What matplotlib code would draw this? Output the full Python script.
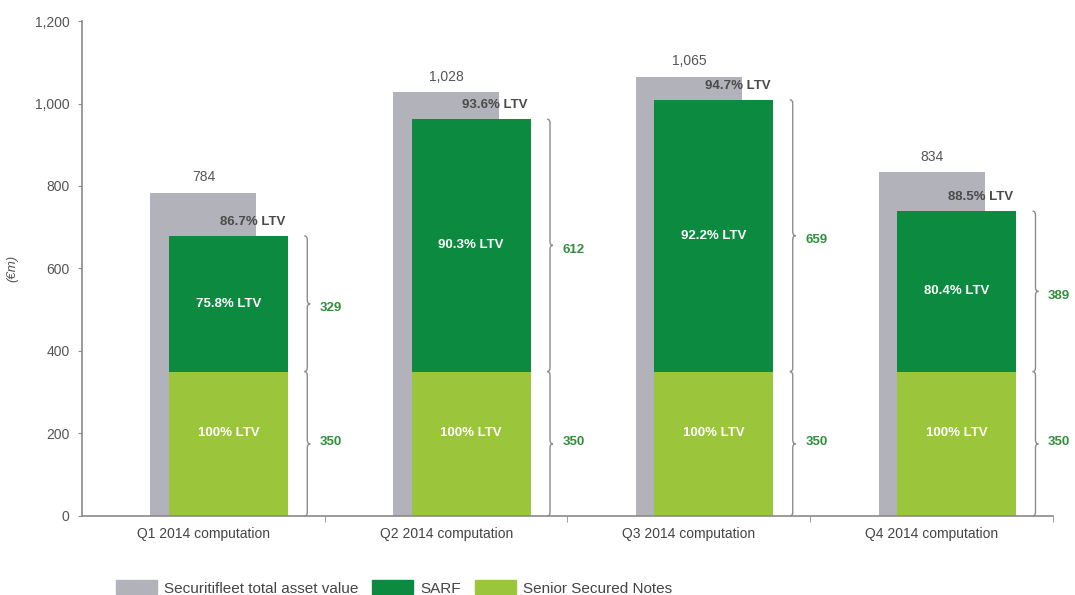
import matplotlib
matplotlib.use("Agg")
import matplotlib.pyplot as plt
from matplotlib.path import Path
from matplotlib.patches import PathPatch, Patch

# data
quarters = ["Q1 2014 computation", "Q2 2014 computation",
            "Q3 2014 computation", "Q4 2014 computation"]
total_asset = [784, 1028, 1065, 834]
senior_notes = [350, 350, 350, 350]
sarf = [329, 612, 659, 389]
ltv_total = ["86.7% LTV", "93.6% LTV", "94.7% LTV", "88.5% LTV"]
ltv_sarf = ["75.8% LTV", "90.3% LTV", "92.2% LTV", "80.4% LTV"]
ltv_notes = ["100% LTV", "100% LTV", "100% LTV", "100% LTV"]

GREY = "#b2b3ba"
DARK = "#0b8a40"
LIGHT = "#9bc53b"
AXC = "#8a8a8a"

plt.rcParams["font.family"] = ["Liberation Sans", "DejaVu Sans"]

fig = plt.figure(figsize=(10.75, 5.95), dpi=100)
ax = fig.add_axes([0.0763, 0.1328, 0.9032, 0.8319])

x = list(range(len(quarters)))
gw, gnw, off = 0.436, 0.49, 0.103
xg = [i + off for i in x]

ax.bar(x, total_asset, width=gw, color=GREY, zorder=1)
ax.bar(xg, senior_notes, width=gnw, color=LIGHT, zorder=2)
ax.bar(xg, sarf, width=gnw, bottom=senior_notes, color=DARK, zorder=2)


def brace(ax, xb, y0, y1, w=0.012, h=9):
    # curly brace opening to the left, spike pointing right
    ym = (y0 + y1) / 2
    verts = [(xb - w, y1), (xb, y1), (xb, y1 - h),
             (xb, ym + h),
             (xb, ym), (xb + w, ym),
             (xb, ym), (xb, ym - h),
             (xb, y0 + h),
             (xb, y0), (xb - w, y0)]
    codes = [Path.MOVETO, Path.CURVE3, Path.CURVE3,
             Path.LINETO,
             Path.CURVE3, Path.CURVE3,
             Path.CURVE3, Path.CURVE3,
             Path.LINETO,
             Path.CURVE3, Path.CURVE3]
    ax.add_patch(PathPatch(Path(verts, codes), fill=False, edgecolor="#8c8c8c",
                           lw=1.0, zorder=3, clip_on=False))


for i in x:
    top = senior_notes[i] + sarf[i]
    right = xg[i] + gnw / 2
    # total value above grey bar
    ax.annotate(f"{total_asset[i]:,}", (x[i], total_asset[i]), xytext=(0, 11),
                textcoords="offset points", ha="center", va="center",
                fontsize=10, color="#555555")
    # LTV on total
    ax.annotate(ltv_total[i], (right, top), xytext=(-2, 10),
                textcoords="offset points", ha="right", va="center",
                fontsize=9.5, fontweight="bold", color="#4a4a4a", zorder=4)
    # inner labels
    ax.text(xg[i], senior_notes[i] + sarf[i] / 2, ltv_sarf[i], ha="center",
            va="center", fontsize=9.5, fontweight="bold", color="white", zorder=4)
    ax.text(xg[i], senior_notes[i] / 2 + 25, ltv_notes[i], ha="center",
            va="center", fontsize=9.5, fontweight="bold", color="white", zorder=4)
    # braces
    xb = right + 0.08
    brace(ax, xb, senior_notes[i], top)
    brace(ax, xb, 0, senior_notes[i])
    ax.text(xb + 0.052, senior_notes[i] + sarf[i] / 2 - 10, str(sarf[i]),
            ha="left", va="center", fontsize=9.5, fontweight="bold", color="#2f8f3a")
    ax.text(xb + 0.052, senior_notes[i] / 2 + 5, str(senior_notes[i]),
            ha="left", va="center", fontsize=9.5, fontweight="bold", color="#2f8f3a")

ax.set_xlim(-0.5, 3.5)
ax.set_ylim(0, 1200)
ax.set_yticks(range(0, 1201, 200))
ax.set_yticklabels([f"{v:,}" for v in range(0, 1201, 200)])
ax.set_xticks(x)
ax.set_xticklabels(quarters)
ax.set_xticks([0.5, 1.5, 2.5, 3.5], minor=True)
ax.tick_params(axis="x", which="major", length=0, pad=8, labelsize=10, labelcolor="#444444")
ax.tick_params(axis="x", which="minor", length=4, color=AXC, direction="out")
ax.tick_params(axis="y", length=3, color=AXC, labelsize=10, labelcolor="#555555", pad=6)
for s in ["top", "right"]:
    ax.spines[s].set_visible(False)
for s in ["left", "bottom"]:
    ax.spines[s].set_color(AXC)
    ax.spines[s].set_linewidth(1.2)
ax.set_ylabel("(€m)", fontsize=9.5, style="italic", color="#555555", labelpad=12)

handles = [Patch(color=GREY), Patch(color=DARK), Patch(color=LIGHT)]
labels = ["Securitifleet total asset value", "SARF", "Senior Secured Notes"]
fig.legend(handles, labels, loc="lower left", bbox_to_anchor=(0.095, -0.024),
           ncol=3, frameon=False, handlelength=2.7, handleheight=1.0,
           handletextpad=0.45, columnspacing=0.9,
           prop={"family": ["Liberation Sans", "DejaVu Sans"], "size": 11},
           labelcolor="#444444")

fig.savefig("out.png", dpi=100)
